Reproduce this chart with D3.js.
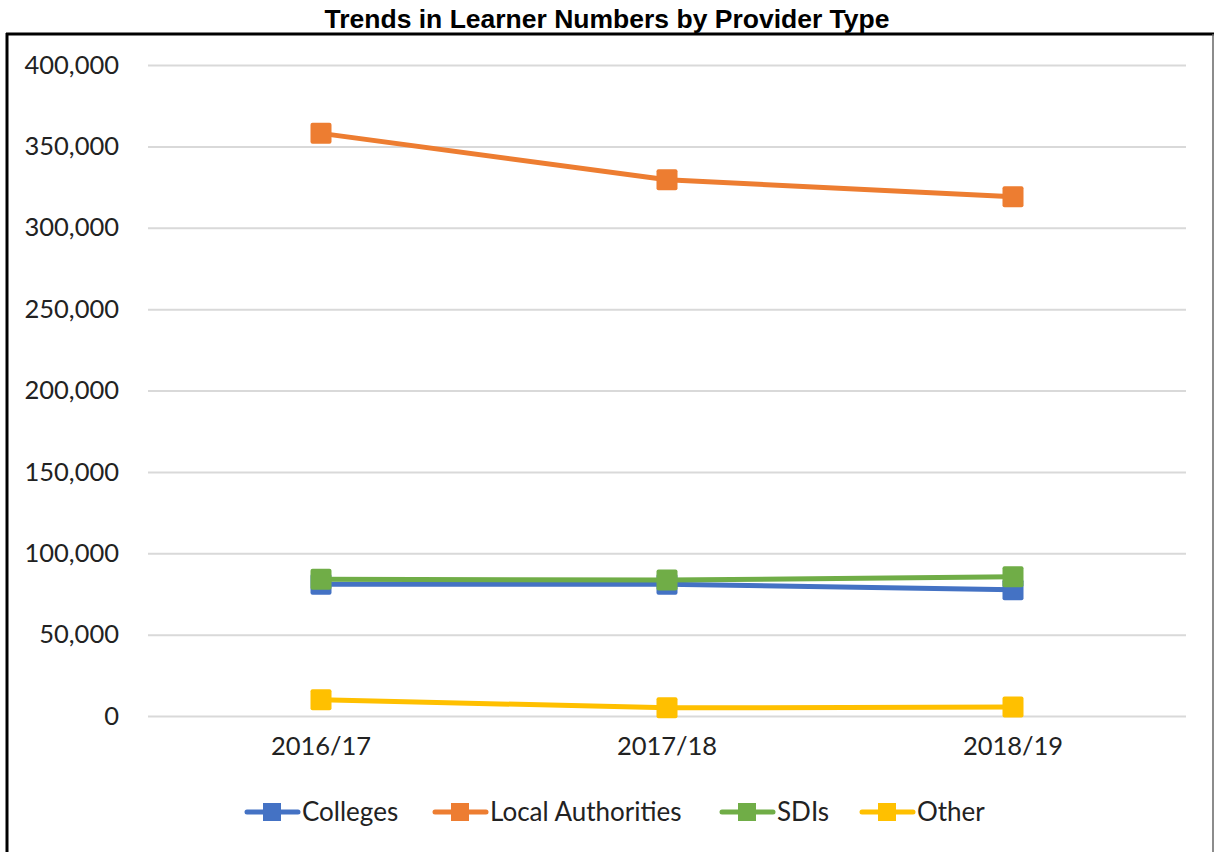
<!DOCTYPE html>
<html>
<head>
<meta charset="utf-8">
<script src="https://cdn.jsdelivr.net/npm/d3@7"></script>
<style>
  body { margin: 0; background: #fff; }
  svg { display: block; }
</style>
</head>
<body>
<div id="chart"></div>
<script>
// chart data
const years = ["2016/17", "2017/18", "2018/19"];
const colleges = [81000, 81000, 77500];
const localAuthorities = [358000, 329500, 319000];
const sdis = [84000, 83500, 85500];
const other = [10000, 5000, 5500];
const seriesNames = ["Colleges", "Local Authorities", "SDIs", "Other"];
const seriesColors = ["#4472c4", "#ed7d31", "#70ad47", "#ffc000"];
const yTicks = [0, 50000, 100000, 150000, 200000, 250000, 300000, 350000, 400000];

const width = 1214;
const height = 852;
const margin = {left: 148, right: 28, top: 65, bottom: 136};

const series = [colleges, localAuthorities, sdis, other].map((vals, i) => ({
  name: seriesNames[i], color: seriesColors[i], values: vals
}));

const svg = d3.select("#chart").append("svg")
  .attr("width", width)
  .attr("height", height);

// outer frame
svg.append("line").attr("x1", 6).attr("x2", 1214).attr("y1", 34).attr("y2", 34)
  .attr("stroke", "#000").attr("stroke-width", 3);
svg.append("line").attr("x1", 7).attr("x2", 7).attr("y1", 33).attr("y2", height)
  .attr("stroke", "#000").attr("stroke-width", 3);
svg.append("line").attr("x1", 1213).attr("x2", 1213).attr("y1", 34).attr("y2", height)
  .attr("stroke", "#666").attr("stroke-width", 1.5);

// title
svg.append("text")
  .attr("x", 607).attr("y", 28)
  .attr("text-anchor", "middle")
  .style("font-family", "'Liberation Sans', Arial, sans-serif")
  .style("font-weight", "bold")
  .style("font-size", "26.5px")
  .text("Trends in Learner Numbers by Provider Type");

const x = d3.scaleBand()
  .domain(years)
  .range([margin.left, width - margin.right]);

const y = d3.scaleLinear()
  .domain([0, 400000])
  .range([height - margin.bottom, margin.top]);

// gridlines + y labels
const yAxis = svg.append("g")
  .attr("transform", `translate(${margin.left},0)`)
  .call(d3.axisLeft(y).tickValues(yTicks)
    .tickSize(-(width - margin.left - margin.right))
    .tickPadding(29)
    .tickFormat(d3.format(",")));
yAxis.select(".domain").remove();
yAxis.selectAll(".tick line").attr("stroke", "#d9d9d9").attr("stroke-width", 2);
yAxis.selectAll(".tick text")
  .attr("fill", "#222")
  .style("font-family", "Lato, 'Open Sans', sans-serif")
  .style("font-size", "25.5px");

// x labels
const xAxis = svg.append("g")
  .attr("transform", `translate(0,${height - margin.bottom})`)
  .call(d3.axisBottom(x).tickSize(0).tickPadding(21));
xAxis.select(".domain").remove();
xAxis.selectAll(".tick text")
  .attr("fill", "#222")
  .style("font-family", "Lato, 'Open Sans', sans-serif")
  .style("font-size", "25.5px");

const line = d3.line()
  .x((d, i) => x(years[i]) + x.bandwidth() / 2)
  .y(d => y(d));

const markerSize = 21;

// draw each series: line then markers
series.forEach(s => {
  svg.append("path")
    .datum(s.values)
    .attr("fill", "none")
    .attr("stroke", s.color)
    .attr("stroke-width", 5)
    .attr("stroke-linejoin", "round")
    .attr("d", line);
  svg.selectAll(null)
    .data(s.values)
    .enter()
    .append("rect")
    .attr("x", (d, i) => x(years[i]) + x.bandwidth() / 2 - markerSize / 2)
    .attr("y", d => y(d) - markerSize / 2)
    .attr("width", markerSize)
    .attr("height", markerSize)
    .attr("rx", 2)
    .attr("fill", s.color);
});

// legend
const legendX = [245, 433, 720, 860];
const legend = svg.append("g").attr("transform", "translate(0,812)");
series.forEach((s, i) => {
  const g = legend.append("g").attr("transform", `translate(${legendX[i]},0)`);
  g.append("line").attr("x1", 2).attr("x2", 53).attr("y1", 0).attr("y2", 0)
    .attr("stroke", s.color).attr("stroke-width", 5).attr("stroke-linecap", "round");
  g.append("rect").attr("x", 18).attr("y", -9).attr("width", 18).attr("height", 18)
    .attr("fill", s.color);
  g.append("text")
    .attr("x", 57).attr("y", 0).attr("dy", "0.35em")
    .attr("fill", "#222")
    .style("font-family", "Lato, 'Open Sans', sans-serif")
    .style("font-size", "26px")
    .text(s.name);
});
</script>
</body>
</html>
